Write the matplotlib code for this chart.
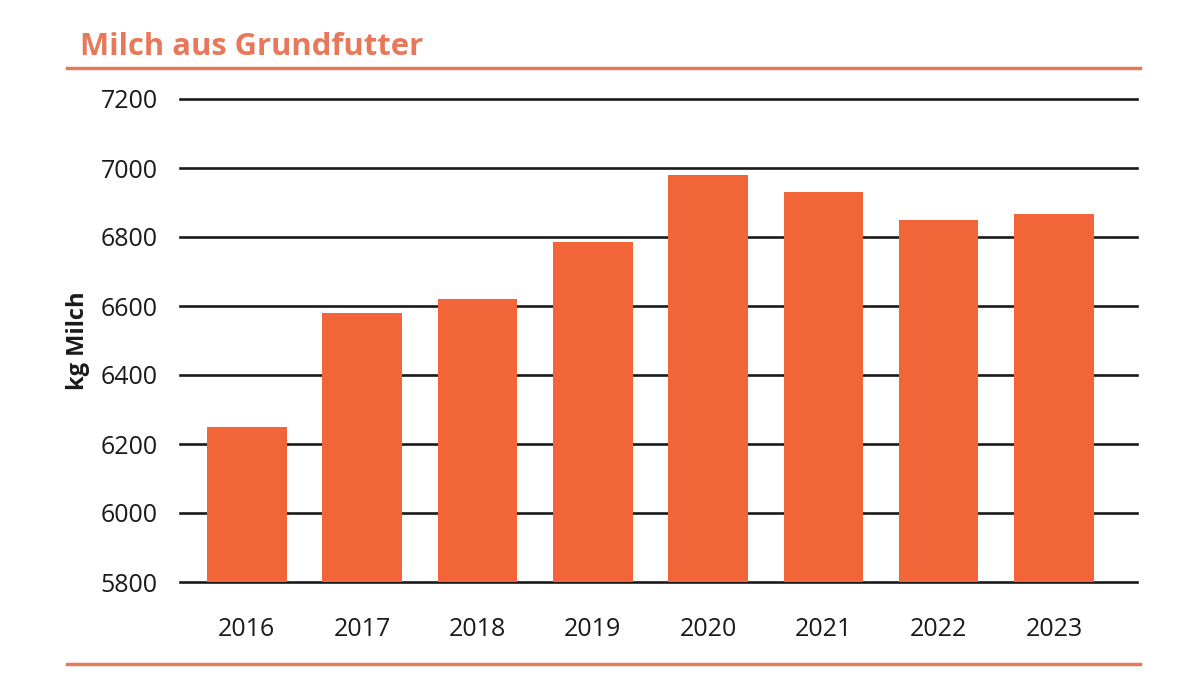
import matplotlib
matplotlib.use("Agg")
import matplotlib.pyplot as plt
from matplotlib.lines import Line2D

years = ["2016", "2017", "2018", "2019", "2020", "2021", "2022", "2023"]
values = [6250, 6580, 6620, 6785, 6980, 6930, 6850, 6867]
yticks = [5800, 6000, 6200, 6400, 6600, 6800, 7000, 7200]

plt.rcParams['font.family'] = ['Open Sans', 'DejaVu Sans']

fig = plt.figure(figsize=(11.99, 6.95), dpi=100)
ax = fig.add_axes([180/1199, 1-582/695, (1137-180)/1199, (582-99)/695])

x = list(range(len(years)))
ax.bar(x, values, width=0.69, color="#F26539", zorder=3, bottom=0)
ax.set_ylim(5800, 7200)
ax.set_xlim(-0.58, 7.72)
ax.set_yticks(yticks)
ax.set_yticklabels([str(v) for v in yticks])
ax.set_xticks(x)
ax.set_xticklabels(years)
for v in yticks:
    ax.axhline(v, color="#1a1a1a", lw=1.9, zorder=2, clip_on=False)
for s in ax.spines.values():
    s.set_visible(False)
ax.tick_params(axis='both', length=0, labelsize=18, colors="#1a1a1a")
ax.tick_params(axis='y', pad=16)
ax.tick_params(axis='x', pad=25)
ax.set_ylabel("kg Milch", fontsize=17, fontweight='bold', color="#1a1a1a")
ax.yaxis.set_label_coords(-(180-90)/957, 0.5)

fig.text(80/1199, 1-47/695, "Milch aus Grundfutter", fontsize=22.3, fontweight='bold',
         color="#E8785A", va='center', ha='left')
fig.add_artist(Line2D([67/1199, 1140/1199], [1-68/695, 1-68/695], color="#E8785A", lw=2.5,
                      transform=fig.transFigure))
fig.add_artist(Line2D([67/1199, 1140/1199], [1-664/695, 1-664/695], color="#E8785A", lw=2.5,
                      transform=fig.transFigure))

fig.savefig("out.png", dpi=100)
